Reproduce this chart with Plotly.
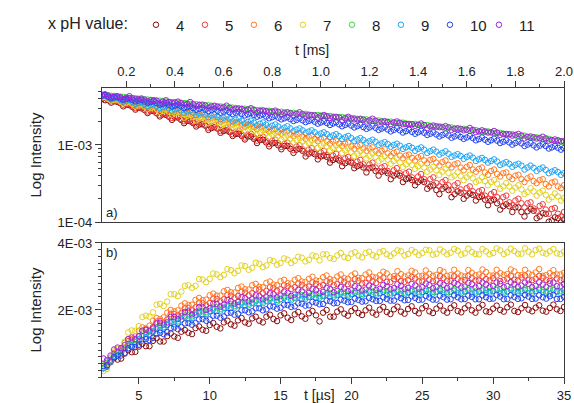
import plotly.graph_objects as go
from plotly.subplots import make_subplots

# ---- time grids: two interleaved sampling passes per panel ----
t_ms = [0.100, 0.125, 0.150, 0.175, 0.200, 0.225, 0.250, 0.275, 0.300, 0.325,
        0.350, 0.375, 0.400, 0.425, 0.450, 0.475, 0.500, 0.525, 0.550, 0.575,
        0.600, 0.625, 0.650, 0.675, 0.700, 0.725, 0.750, 0.775, 0.800, 0.825,
        0.850, 0.875, 0.900, 0.925, 0.950, 0.975, 1.000, 1.025, 1.050, 1.075,
        1.100, 1.125, 1.150, 1.175, 1.200, 1.225, 1.250, 1.275, 1.300, 1.325,
        1.350, 1.375, 1.400, 1.425, 1.450, 1.475, 1.500, 1.525, 1.550, 1.575,
        1.600, 1.625, 1.650, 1.675, 1.700, 1.725, 1.750, 1.775, 1.800, 1.825,
        1.850, 1.875, 1.900, 1.925, 1.950, 1.975, 2.000]
t_ms_mid = [0.1125, 0.1375, 0.1625, 0.1875, 0.2125, 0.2375, 0.2625, 0.2875, 0.3125, 0.3375,
            0.3625, 0.3875, 0.4125, 0.4375, 0.4625, 0.4875, 0.5125, 0.5375, 0.5625, 0.5875,
            0.6125, 0.6375, 0.6625, 0.6875, 0.7125, 0.7375, 0.7625, 0.7875, 0.8125, 0.8375,
            0.8625, 0.8875, 0.9125, 0.9375, 0.9625, 0.9875, 1.0125, 1.0375, 1.0625, 1.0875,
            1.1125, 1.1375, 1.1625, 1.1875, 1.2125, 1.2375, 1.2625, 1.2875, 1.3125, 1.3375,
            1.3625, 1.3875, 1.4125, 1.4375, 1.4625, 1.4875, 1.5125, 1.5375, 1.5625, 1.5875,
            1.6125, 1.6375, 1.6625, 1.6875, 1.7125, 1.7375, 1.7625, 1.7875, 1.8125, 1.8375,
            1.8625, 1.8875, 1.9125, 1.9375, 1.9625, 1.9875]

t_us = [2.5, 3.0, 3.5, 4.0, 4.5, 5.0, 5.5, 6.0, 6.5, 7.0,
        7.5, 8.0, 8.5, 9.0, 9.5, 10.0, 10.5, 11.0, 11.5, 12.0,
        12.5, 13.0, 13.5, 14.0, 14.5, 15.0, 15.5, 16.0, 16.5, 17.0,
        17.5, 18.0, 18.5, 19.0, 19.5, 20.0, 20.5, 21.0, 21.5, 22.0,
        22.5, 23.0, 23.5, 24.0, 24.5, 25.0, 25.5, 26.0, 26.5, 27.0,
        27.5, 28.0, 28.5, 29.0, 29.5, 30.0, 30.5, 31.0, 31.5, 32.0,
        32.5, 33.0, 33.5, 34.0, 34.5, 35.0]
t_us_mid = [2.75, 3.25, 3.75, 4.25, 4.75, 5.25, 5.75, 6.25, 6.75, 7.25,
            7.75, 8.25, 8.75, 9.25, 9.75, 10.25, 10.75, 11.25, 11.75, 12.25,
            12.75, 13.25, 13.75, 14.25, 14.75, 15.25, 15.75, 16.25, 16.75, 17.25,
            17.75, 18.25, 18.75, 19.25, 19.75, 20.25, 20.75, 21.25, 21.75, 22.25,
            22.75, 23.25, 23.75, 24.25, 24.75, 25.25, 25.75, 26.25, 26.75, 27.25,
            27.75, 28.25, 28.75, 29.25, 29.75, 30.25, 30.75, 31.25, 31.75, 32.25,
            32.75, 33.25, 33.75, 34.25, 34.75]

ph_labels = ["4", "5", "6", "7", "8", "9", "10", "11"]
ph_colors = ["#8b0a0a", "#f23a3a", "#ff7a22", "#e3d21c",
             "#3ada3a", "#1ea6f5", "#2443f0", "#a024dc"]

# ---- (a) decay, intensity in units of 1E-03 ----
decay_ph4 = [3.95, 3.82, 3.70, 3.49, 3.34, 3.12, 3.05, 2.84, 2.76, 2.58,
             2.50, 2.33, 2.28, 2.12, 2.06, 1.92, 1.84, 1.78, 1.66, 1.63,
             1.52, 1.47, 1.39, 1.31, 1.29, 1.20, 1.16, 1.08, 1.05, 0.99,
             0.97, 0.89, 0.87, 0.84, 0.77, 0.76, 0.71, 0.70, 0.64, 0.63,
             0.58, 0.59, 0.53, 0.51, 0.50, 0.46, 0.45, 0.43, 0.40, 0.40,
             0.36, 0.35, 0.33, 0.33, 0.29, 0.26, 0.27, 0.26, 0.23, 0.24,
             0.22, 0.225, 0.21, 0.195, 0.19, 0.175, 0.16, 0.16, 0.155, 0.135,
             0.138, 0.14, 0.118, 0.128, 0.105, 0.112, 0.108]
decay_ph4_mid = [3.82, 3.55, 3.63, 3.18, 3.29, 2.88, 2.99, 2.60, 2.74, 2.35,
                 2.46, 2.12, 2.27, 1.92, 2.03, 1.74, 1.86, 1.57, 1.70, 1.44,
                 1.55, 1.31, 1.40, 1.18, 1.29, 1.06, 1.17, 0.96, 1.06, 0.88,
                 0.97, 0.79, 0.89, 0.71, 0.80, 0.65, 0.73, 0.59, 0.66, 0.53,
                 0.61, 0.50, 0.55, 0.44, 0.51, 0.40, 0.46, 0.36, 0.42, 0.33,
                 0.37, 0.30, 0.35, 0.27, 0.30, 0.23, 0.285, 0.21, 0.25, 0.20,
                 0.235, 0.19, 0.215, 0.165, 0.195, 0.145, 0.17, 0.135, 0.155, 0.118,
                 0.148, 0.112, 0.13, 0.101, 0.115, 0.099]
decay_ph5 = [4.08, 3.90, 3.72, 3.55, 3.38, 3.18, 3.09, 2.88, 2.80, 2.62,
             2.55, 2.39, 2.33, 2.18, 2.12, 1.98, 1.94, 1.81, 1.77, 1.65,
             1.62, 1.51, 1.48, 1.37, 1.36, 1.26, 1.24, 1.14, 1.13, 1.05,
             1.03, 0.96, 0.95, 0.88, 0.87, 0.80, 0.80, 0.74, 0.73, 0.67,
             0.67, 0.61, 0.61, 0.56, 0.56, 0.51, 0.51, 0.46, 0.47, 0.43,
             0.43, 0.38, 0.39, 0.36, 0.36, 0.32, 0.33, 0.30, 0.30, 0.265,
             0.275, 0.25, 0.25, 0.22, 0.23, 0.21, 0.21, 0.18, 0.19, 0.175,
             0.175, 0.15, 0.162, 0.145, 0.148, 0.128, 0.135]
decay_ph5_mid = [4.10, 3.70, 3.75, 3.34, 3.40, 3.01, 3.10, 2.72, 2.83, 2.46,
                 2.59, 2.24, 2.37, 2.03, 2.16, 1.84, 1.98, 1.67, 1.81, 1.52,
                 1.66, 1.38, 1.52, 1.25, 1.40, 1.14, 1.28, 1.03, 1.17, 0.94,
                 1.07, 0.86, 0.99, 0.78, 0.91, 0.72, 0.84, 0.65, 0.77, 0.60,
                 0.70, 0.55, 0.64, 0.50, 0.59, 0.46, 0.53, 0.42, 0.50, 0.38,
                 0.45, 0.34, 0.42, 0.32, 0.38, 0.29, 0.35, 0.26, 0.32, 0.24,
                 0.29, 0.22, 0.26, 0.20, 0.245, 0.185, 0.22, 0.165, 0.20, 0.155,
                 0.18, 0.138, 0.17, 0.128, 0.152, 0.118]
decay_ph6 = [4.22, 4.03, 3.95, 3.75, 3.67, 3.49, 3.43, 3.25, 3.19, 3.03,
             2.98, 2.82, 2.77, 2.62, 2.59, 2.44, 2.41, 2.27, 2.25, 2.12,
             2.09, 1.97, 1.95, 1.83, 1.82, 1.71, 1.70, 1.59, 1.58, 1.48,
             1.48, 1.38, 1.38, 1.29, 1.28, 1.20, 1.20, 1.12, 1.11, 1.04,
             1.04, 0.96, 0.97, 0.90, 0.90, 0.84, 0.84, 0.78, 0.79, 0.73,
             0.73, 0.68, 0.69, 0.63, 0.64, 0.59, 0.60, 0.55, 0.56, 0.51,
             0.52, 0.48, 0.49, 0.44, 0.46, 0.42, 0.43, 0.385, 0.40, 0.36,
             0.37, 0.34, 0.35, 0.31, 0.325, 0.29, 0.30]
decay_ph6_mid = [4.28, 3.85, 4.02, 3.55, 3.75, 3.33, 3.50, 3.08, 3.27, 2.86,
                 3.05, 2.67, 2.84, 2.48, 2.64, 2.30, 2.46, 2.15, 2.30, 1.99,
                 2.14, 1.86, 1.99, 1.72, 1.86, 1.61, 1.74, 1.49, 1.62, 1.40,
                 1.52, 1.30, 1.42, 1.20, 1.32, 1.12, 1.24, 1.04, 1.14, 0.97,
                 1.07, 0.89, 1.00, 0.84, 0.93, 0.78, 0.88, 0.72, 0.82, 0.67,
                 0.75, 0.63, 0.72, 0.58, 0.66, 0.54, 0.63, 0.51, 0.58, 0.47,
                 0.55, 0.45, 0.51, 0.41, 0.48, 0.39, 0.44, 0.36, 0.41, 0.33,
                 0.39, 0.32, 0.36, 0.29, 0.335, 0.275]
decay_ph7 = [4.15, 3.97, 3.85, 3.68, 3.54, 3.42, 3.26, 3.16, 3.02, 2.92,
             2.78, 2.70, 2.58, 2.49, 2.38, 2.30, 2.20, 2.13, 2.02, 1.96,
             1.87, 1.81, 1.72, 1.67, 1.60, 1.54, 1.47, 1.42, 1.36, 1.31,
             1.25, 1.21, 1.16, 1.12, 1.06, 1.04, 0.99, 0.96, 0.91, 0.89,
             0.85, 0.81, 0.77, 0.755, 0.72, 0.70, 0.66, 0.645, 0.62, 0.595,
             0.56, 0.55, 0.53, 0.51, 0.48, 0.47, 0.45, 0.435, 0.40, 0.395,
             0.38, 0.37, 0.345, 0.34, 0.33, 0.315, 0.29, 0.29, 0.28, 0.265,
             0.245, 0.25, 0.24, 0.225, 0.21, 0.215, 0.205]
decay_ph7_mid = [4.20, 3.78, 3.90, 3.45, 3.62, 3.17, 3.35, 2.93, 3.12, 2.69,
                 2.88, 2.47, 2.66, 2.26, 2.46, 2.09, 2.29, 1.92, 2.11, 1.76,
                 1.96, 1.62, 1.80, 1.50, 1.68, 1.37, 1.55, 1.27, 1.43, 1.17,
                 1.33, 1.07, 1.23, 0.99, 1.14, 0.92, 1.05, 0.85, 0.98, 0.79,
                 0.91, 0.72, 0.83, 0.67, 0.78, 0.62, 0.71, 0.57, 0.67, 0.52,
                 0.61, 0.49, 0.57, 0.45, 0.52, 0.41, 0.49, 0.38, 0.44, 0.35,
                 0.41, 0.33, 0.38, 0.30, 0.35, 0.27, 0.32, 0.255, 0.30, 0.23,
                 0.275, 0.22, 0.255, 0.195, 0.235, 0.19]
decay_ph8 = [4.52, 4.42, 4.33, 4.24, 4.15, 4.06, 3.99, 3.91, 3.85, 3.78,
             3.73, 3.65, 3.60, 3.53, 3.48, 3.40, 3.35, 3.29, 3.24, 3.17,
             3.12, 3.07, 3.02, 2.96, 2.92, 2.88, 2.83, 2.78, 2.74, 2.70,
             2.66, 2.61, 2.57, 2.54, 2.49, 2.45, 2.41, 2.38, 2.34, 2.29,
             2.26, 2.23, 2.18, 2.15, 2.11, 2.08, 2.04, 2.00, 1.97, 1.94,
             1.90, 1.87, 1.84, 1.81, 1.77, 1.74, 1.71, 1.68, 1.64, 1.61,
             1.58, 1.55, 1.52, 1.49, 1.46, 1.43, 1.40, 1.37, 1.34, 1.31,
             1.28, 1.25, 1.22, 1.19, 1.16, 1.13, 1.10]
decay_ph8_mid = [4.50, 4.36, 4.25, 4.22, 4.08, 4.05, 3.92, 3.90, 3.79, 3.77,
                 3.66, 3.60, 3.54, 3.50, 3.42, 3.39, 3.29, 3.28, 3.18, 3.17,
                 3.07, 3.06, 2.97, 2.96, 2.88, 2.83, 2.78, 2.79, 2.69, 2.70,
                 2.61, 2.61, 2.53, 2.54, 2.44, 2.45, 2.37, 2.38, 2.29, 2.30,
                 2.22, 2.23, 2.14, 2.15, 2.07, 2.08, 2.00, 2.01, 1.93, 1.95,
                 1.86, 1.88, 1.80, 1.82, 1.73, 1.75, 1.67, 1.69, 1.60, 1.62,
                 1.54, 1.56, 1.48, 1.50, 1.42, 1.44, 1.36, 1.38, 1.30, 1.32,
                 1.24, 1.26, 1.18, 1.20, 1.12, 1.10]
decay_ph9 = [4.32, 4.15, 4.02, 3.86, 3.75, 3.62, 3.52, 3.39, 3.30, 3.19,
             3.10, 2.99, 2.90, 2.81, 2.73, 2.63, 2.55, 2.48, 2.41, 2.33,
             2.26, 2.20, 2.13, 2.07, 2.00, 1.95, 1.89, 1.84, 1.78, 1.74,
             1.68, 1.64, 1.58, 1.55, 1.49, 1.46, 1.41, 1.38, 1.33, 1.30,
             1.26, 1.23, 1.18, 1.16, 1.12, 1.10, 1.05, 1.03, 1.00, 0.98,
             0.93, 0.92, 0.89, 0.87, 0.83, 0.82, 0.79, 0.77, 0.73, 0.72,
             0.70, 0.685, 0.65, 0.64, 0.62, 0.61, 0.575, 0.57, 0.55, 0.54,
             0.51, 0.505, 0.49, 0.475, 0.45, 0.445, 0.43]
decay_ph9_mid = [4.36, 3.94, 4.10, 3.66, 3.86, 3.43, 3.59, 3.17, 3.40, 3.01,
                 3.19, 2.79, 2.99, 2.62, 2.81, 2.45, 2.64, 2.30, 2.49, 2.16,
                 2.34, 2.03, 2.21, 1.91, 2.07, 1.80, 1.96, 1.70, 1.85, 1.60,
                 1.75, 1.51, 1.64, 1.43, 1.55, 1.34, 1.46, 1.27, 1.38, 1.20,
                 1.31, 1.13, 1.23, 1.07, 1.17, 1.00, 1.09, 0.95, 1.04, 0.89,
                 0.97, 0.84, 0.93, 0.79, 0.87, 0.75, 0.83, 0.70, 0.76, 0.66,
                 0.73, 0.62, 0.68, 0.59, 0.65, 0.55, 0.60, 0.52, 0.57, 0.48,
                 0.54, 0.46, 0.51, 0.43, 0.47, 0.41]
decay_ph10 = [4.38, 4.25, 4.16, 4.03, 3.95, 3.84, 3.77, 3.66, 3.60, 3.49,
              3.42, 3.31, 3.25, 3.16, 3.10, 3.01, 2.95, 2.88, 2.85, 2.77,
              2.72, 2.66, 2.62, 2.54, 2.50, 2.45, 2.41, 2.34, 2.30, 2.26,
              2.22, 2.16, 2.12, 2.09, 2.05, 2.00, 1.96, 1.93, 1.90, 1.85,
              1.82, 1.79, 1.76, 1.71, 1.69, 1.67, 1.63, 1.59, 1.57, 1.55,
              1.51, 1.48, 1.46, 1.44, 1.40, 1.37, 1.35, 1.33, 1.29, 1.27,
              1.25, 1.23, 1.19, 1.17, 1.15, 1.14, 1.10, 1.08, 1.06, 1.05,
              1.01, 0.99, 0.98, 0.97, 0.93, 0.92, 0.91]
decay_ph10_mid = [4.45, 4.06, 4.22, 3.86, 4.04, 3.68, 3.86, 3.51, 3.70, 3.33,
                  3.51, 3.16, 3.35, 3.01, 3.19, 2.87, 3.05, 2.75, 2.95, 2.63,
                  2.82, 2.53, 2.71, 2.42, 2.59, 2.33, 2.49, 2.22, 2.39, 2.15,
                  2.30, 2.05, 2.21, 1.98, 2.12, 1.89, 2.04, 1.82, 1.97, 1.75,
                  1.90, 1.69, 1.83, 1.62, 1.77, 1.57, 1.70, 1.50, 1.65, 1.45,
                  1.58, 1.40, 1.53, 1.35, 1.46, 1.29, 1.41, 1.24, 1.35, 1.20,
                  1.31, 1.15, 1.25, 1.10, 1.21, 1.06, 1.15, 1.01, 1.11, 0.97,
                  1.06, 0.93, 1.03, 0.90, 0.97, 0.87]
decay_ph11 = [4.43, 4.37, 4.25, 4.19, 4.10, 4.04, 3.93, 3.88, 3.80, 3.75,
              3.65, 3.61, 3.55, 3.50, 3.39, 3.36, 3.30, 3.25, 3.15, 3.13,
              3.08, 3.04, 2.95, 2.93, 2.88, 2.85, 2.76, 2.75, 2.70, 2.67,
              2.59, 2.58, 2.53, 2.50, 2.43, 2.42, 2.37, 2.35, 2.28, 2.27,
              2.22, 2.20, 2.14, 2.13, 2.08, 2.06, 2.01, 1.99, 1.95, 1.94,
              1.87, 1.86, 1.82, 1.81, 1.74, 1.74, 1.70, 1.69, 1.62, 1.62,
              1.58, 1.57, 1.50, 1.50, 1.46, 1.45, 1.39, 1.38, 1.35, 1.33,
              1.27, 1.26, 1.23, 1.22, 1.16, 1.15, 1.12]
decay_ph11_mid = [4.55, 4.20, 4.30, 3.95, 4.30, 3.93, 4.02, 3.69, 3.81, 3.48,
                  3.81, 3.51, 3.66, 3.34, 3.61, 3.20, 3.34, 3.04, 3.23, 3.04,
                  3.24, 2.87, 2.97, 2.81, 3.00, 2.63, 2.81, 2.69, 2.79, 2.50,
                  2.66, 2.45, 2.66, 2.41, 2.44, 2.27, 2.45, 2.24, 2.32, 2.11,
                  2.32, 2.15, 2.19, 2.02, 2.19, 1.97, 2.04, 1.87, 2.02, 1.86,
                  1.88, 1.77, 1.90, 1.66, 1.79, 1.70, 1.76, 1.57, 1.65, 1.55,
                  1.66, 1.47, 1.55, 1.45, 1.52, 1.35, 1.39, 1.32, 1.39, 1.22,
                  1.29, 1.21, 1.28, 1.14, 1.18, 1.12]

# ---- (b) rise, intensity in units of 1E-03 ----
rise_ph4 = [0.26, 0.47, 0.52, 0.70, 0.74, 0.91, 0.92, 1.08, 1.06, 1.22,
            1.21, 1.35, 1.32, 1.46, 1.41, 1.55, 1.50, 1.63, 1.57, 1.69,
            1.63, 1.75, 1.68, 1.80, 1.73, 1.84, 1.77, 1.87, 1.81, 1.90,
            1.84, 1.92, 1.80, 1.95, 1.89, 1.97, 1.91, 1.99, 1.92, 2.01,
            1.94, 2.02, 1.95, 2.03, 1.97, 2.05, 1.96, 2.04, 1.98, 2.06,
            1.97, 2.05, 1.99, 2.07, 1.96, 2.04, 2.00, 2.08, 1.97, 2.05,
            2.01, 2.07, 1.98, 2.06, 2.02, 2.09]
rise_ph4_mid = [0.31, 0.56, 0.55, 0.80, 0.75, 0.99, 0.92, 1.16, 1.06, 1.30,
                1.17, 1.40, 1.28, 1.51, 1.38, 1.61, 1.45, 1.68, 1.53, 1.76,
                1.59, 1.80, 1.63, 1.86, 1.67, 1.90, 1.70, 1.94, 1.74, 1.97,
                1.66, 2.00, 1.80, 2.02, 1.83, 2.05, 1.85, 2.07, 1.86, 2.09,
                1.88, 2.10, 1.89, 2.11, 1.90, 2.12, 1.91, 2.13, 1.92, 2.14,
                1.93, 2.14, 1.92, 2.15, 1.94, 2.13, 1.95, 2.16, 1.94, 2.15,
                1.96, 2.14, 1.95, 2.16, 1.97]
rise_ph5 = [0.33, 0.49, 0.76, 0.88, 1.11, 1.21, 1.42, 1.49, 1.67, 1.72,
            1.88, 1.91, 2.06, 2.08, 2.20, 2.21, 2.33, 2.32, 2.43, 2.42,
            2.52, 2.50, 2.61, 2.57, 2.66, 2.62, 2.71, 2.68, 2.75, 2.70,
            2.78, 2.74, 2.82, 2.77, 2.84, 2.79, 2.87, 2.81, 2.86, 2.90,
            2.84, 2.92, 2.86, 2.89, 2.94, 2.85, 2.91, 2.88, 2.95, 2.87,
            2.93, 2.89, 2.96, 2.88, 2.92, 2.95, 2.86, 2.94, 2.90, 2.97,
            2.89, 2.93, 2.96, 2.87, 2.94, 2.91]
rise_ph5_mid = [0.36, 0.70, 0.77, 1.07, 1.10, 1.38, 1.39, 1.65, 1.62, 1.88,
                1.84, 2.06, 2.00, 2.22, 2.14, 2.34, 2.26, 2.45, 2.36, 2.54,
                2.44, 2.62, 2.51, 2.68, 2.58, 2.74, 2.63, 2.79, 2.67, 2.83,
                2.71, 2.86, 2.74, 2.89, 2.77, 2.92, 2.79, 2.94, 2.81, 2.96,
                2.83, 2.97, 2.84, 2.99, 2.85, 3.00, 2.86, 3.01, 2.87, 3.01,
                2.87, 3.02, 2.88, 3.01, 2.88, 3.03, 2.89, 3.02, 2.88, 3.03,
                2.89, 3.02, 2.90, 3.03, 2.89]
rise_ph6 = [0.28, 0.58, 0.74, 1.02, 1.13, 1.38, 1.45, 1.68, 1.73, 1.92,
            1.96, 2.13, 2.15, 2.30, 2.29, 2.44, 2.43, 2.56, 2.53, 2.66,
            2.62, 2.74, 2.69, 2.81, 2.76, 2.86, 2.80, 2.90, 2.85, 2.93,
            2.88, 2.98, 2.92, 3.00, 2.95, 3.03, 2.96, 3.06, 2.99, 3.04,
            3.09, 3.01, 3.07, 3.03, 3.12, 3.02, 3.08, 3.05, 3.14, 3.04,
            3.09, 3.00, 3.11, 3.06, 3.13, 3.03, 3.10, 3.07, 3.15, 3.04,
            3.09, 3.12, 3.02, 3.10, 3.06, 3.11]
rise_ph6_mid = [0.40, 0.71, 0.84, 1.13, 1.21, 1.48, 1.53, 1.76, 1.78, 2.00,
                1.99, 2.20, 2.16, 2.36, 2.31, 2.49, 2.43, 2.60, 2.52, 2.70,
                2.61, 2.78, 2.68, 2.85, 2.74, 2.90, 2.79, 2.95, 2.84, 2.99,
                2.87, 3.03, 2.90, 3.06, 2.93, 3.09, 2.95, 3.12, 2.97, 3.14,
                2.99, 3.16, 3.00, 3.17, 3.01, 3.18, 3.02, 3.19, 3.02, 3.20,
                3.03, 3.19, 3.04, 3.21, 3.03, 3.20, 3.05, 3.21, 3.04, 3.20,
                3.05, 3.22, 3.04, 3.19, 3.06]
rise_ph7 = [0.18, 0.45, 0.84, 1.05, 1.39, 1.52, 1.83, 1.93, 2.18, 2.25,
            2.47, 2.55, 2.74, 2.72, 2.91, 2.93, 3.06, 3.05, 3.19, 3.17,
            3.31, 3.26, 3.38, 3.33, 3.46, 3.40, 3.50, 3.47, 3.56, 3.50,
            3.60, 3.66, 3.55, 3.63, 3.58, 3.68, 3.62, 3.70, 3.64, 3.72,
            3.66, 3.69, 3.75, 3.67, 3.73, 3.70, 3.78, 3.68, 3.74, 3.71,
            3.77, 3.69, 3.73, 3.66, 3.75, 3.70, 3.78, 3.72, 3.76, 3.68,
            3.74, 3.79, 3.71, 3.75, 3.69, 3.74]
rise_ph7_mid = [0.24, 0.76, 0.86, 1.33, 1.38, 1.79, 1.80, 2.16, 2.12, 2.47,
                2.41, 2.72, 2.66, 2.92, 2.83, 3.09, 2.98, 3.22, 3.10, 3.33,
                3.20, 3.41, 3.28, 3.49, 3.35, 3.54, 3.40, 3.59, 3.45, 3.63,
                3.48, 3.66, 3.52, 3.70, 3.55, 3.72, 3.57, 3.74, 3.59, 3.76,
                3.61, 3.78, 3.63, 3.79, 3.64, 3.80, 3.65, 3.81, 3.66, 3.82,
                3.65, 3.83, 3.67, 3.82, 3.66, 3.84, 3.67, 3.83, 3.68, 3.84,
                3.66, 3.83, 3.68, 3.82, 3.67]
rise_ph8 = [0.38, 0.51, 0.74, 0.84, 1.05, 1.12, 1.30, 1.35, 1.51, 1.55,
            1.69, 1.71, 1.84, 1.85, 1.97, 1.96, 2.08, 2.06, 2.17, 2.14,
            2.24, 2.21, 2.30, 2.27, 2.36, 2.32, 2.40, 2.36, 2.44, 2.39,
            2.47, 2.42, 2.50, 2.45, 2.52, 2.47, 2.54, 2.49, 2.55, 2.50,
            2.56, 2.51, 2.58, 2.52, 2.58, 2.53, 2.59, 2.54, 2.60, 2.54,
            2.60, 2.55, 2.61, 2.55, 2.60, 2.56, 2.62, 2.55, 2.61, 2.57,
            2.62, 2.56, 2.60, 2.63, 2.55, 2.61]
rise_ph8_mid = [0.41, 0.68, 0.75, 0.99, 1.04, 1.26, 1.29, 1.48, 1.49, 1.67,
                1.66, 1.83, 1.81, 1.96, 1.93, 2.07, 2.03, 2.16, 2.12, 2.24,
                2.19, 2.31, 2.25, 2.36, 2.30, 2.41, 2.34, 2.45, 2.38, 2.48,
                2.41, 2.51, 2.44, 2.54, 2.46, 2.56, 2.48, 2.58, 2.50, 2.59,
                2.51, 2.60, 2.52, 2.61, 2.53, 2.62, 2.54, 2.63, 2.54, 2.63,
                2.55, 2.64, 2.55, 2.63, 2.56, 2.64, 2.55, 2.65, 2.56, 2.64,
                2.56, 2.65, 2.55, 2.64, 2.56]
rise_ph9 = [0.27, 0.52, 0.63, 0.85, 0.94, 1.13, 1.19, 1.36, 1.40, 1.56,
            1.58, 1.72, 1.73, 1.86, 1.86, 1.97, 1.97, 2.07, 2.06, 2.15,
            2.13, 2.22, 2.19, 2.28, 2.25, 2.33, 2.29, 2.37, 2.33, 2.40,
            2.36, 2.43, 2.39, 2.46, 2.41, 2.48, 2.43, 2.49, 2.44, 2.51,
            2.45, 2.52, 2.47, 2.53, 2.48, 2.54, 2.48, 2.55, 2.49, 2.55,
            2.50, 2.56, 2.49, 2.55, 2.51, 2.57, 2.50, 2.56, 2.52, 2.55,
            2.50, 2.57, 2.53, 2.49, 2.56, 2.52]
rise_ph9_mid = [0.33, 0.62, 0.72, 0.94, 0.98, 1.21, 1.24, 1.43, 1.44, 1.62,
                1.61, 1.78, 1.76, 1.91, 1.88, 2.02, 1.98, 2.11, 2.07, 2.19,
                2.14, 2.26, 2.20, 2.31, 2.25, 2.36, 2.29, 2.40, 2.33, 2.43,
                2.36, 2.46, 2.39, 2.49, 2.41, 2.51, 2.43, 2.53, 2.45, 2.54,
                2.46, 2.55, 2.47, 2.56, 2.48, 2.57, 2.49, 2.58, 2.49, 2.58,
                2.50, 2.59, 2.50, 2.58, 2.51, 2.59, 2.50, 2.60, 2.51, 2.59,
                2.51, 2.60, 2.50, 2.59, 2.51]
rise_ph10 = [0.33, 0.44, 0.64, 0.72, 0.90, 0.96, 1.13, 1.17, 1.32, 1.34,
             1.48, 1.49, 1.61, 1.61, 1.73, 1.72, 1.83, 1.81, 1.92, 1.89,
             1.99, 1.96, 2.05, 2.02, 2.10, 2.07, 2.15, 2.11, 2.19, 2.14,
             2.22, 2.18, 2.26, 2.21, 2.28, 2.24, 2.30, 2.26, 2.32, 2.27,
             2.33, 2.28, 2.35, 2.30, 2.36, 2.31, 2.37, 2.31, 2.38, 2.32,
             2.38, 2.33, 2.39, 2.32, 2.38, 2.34, 2.40, 2.33, 2.39, 2.35,
             2.40, 2.34, 2.38, 2.41, 2.33, 2.39]
rise_ph10_mid = [0.35, 0.59, 0.64, 0.86, 0.89, 1.09, 1.10, 1.29, 1.28, 1.46,
                 1.43, 1.60, 1.56, 1.72, 1.68, 1.83, 1.77, 1.91, 1.86, 1.99,
                 1.93, 2.05, 1.99, 2.11, 2.04, 2.16, 2.09, 2.20, 2.13, 2.24,
                 2.17, 2.28, 2.20, 2.31, 2.23, 2.34, 2.25, 2.36, 2.27, 2.38,
                 2.28, 2.40, 2.29, 2.41, 2.30, 2.42, 2.31, 2.43, 2.31, 2.44,
                 2.32, 2.43, 2.32, 2.44, 2.33, 2.45, 2.32, 2.44, 2.33, 2.45,
                 2.33, 2.44, 2.34, 2.45, 2.33]
rise_ph11 = [0.55, 0.64, 0.88, 0.95, 1.18, 1.22, 1.41, 1.45, 1.62, 1.63,
             1.79, 1.81, 1.95, 1.93, 2.08, 2.05, 2.18, 2.16, 2.26, 2.24,
             2.35, 2.32, 2.41, 2.38, 2.47, 2.43, 2.51, 2.46, 2.55, 2.51,
             2.59, 2.54, 2.62, 2.57, 2.64, 2.59, 2.66, 2.61, 2.68, 2.63,
             2.70, 2.65, 2.72, 2.66, 2.73, 2.68, 2.74, 2.69, 2.75, 2.70,
             2.76, 2.70, 2.77, 2.71, 2.76, 2.72, 2.78, 2.71, 2.77, 2.73,
             2.78, 2.72, 2.76, 2.79, 2.71, 2.77]
rise_ph11_mid = [0.50, 0.82, 0.86, 1.13, 1.13, 1.38, 1.36, 1.60, 1.56, 1.79,
                 1.73, 1.94, 1.87, 2.08, 2.00, 2.19, 2.10, 2.30, 2.19, 2.38,
                 2.26, 2.44, 2.32, 2.50, 2.38, 2.55, 2.42, 2.60, 2.46, 2.63,
                 2.50, 2.66, 2.53, 2.69, 2.56, 2.71, 2.58, 2.73, 2.60, 2.75,
                 2.62, 2.77, 2.63, 2.78, 2.64, 2.79, 2.65, 2.80, 2.66, 2.81,
                 2.67, 2.81, 2.67, 2.82, 2.68, 2.82, 2.68, 2.83, 2.69, 2.82,
                 2.68, 2.83, 2.69, 2.82, 2.70]

UNIT = 1e-3
decay_sets = [(decay_ph4, decay_ph4_mid), (decay_ph5, decay_ph5_mid),
              (decay_ph6, decay_ph6_mid), (decay_ph7, decay_ph7_mid),
              (decay_ph8, decay_ph8_mid), (decay_ph9, decay_ph9_mid),
              (decay_ph10, decay_ph10_mid), (decay_ph11, decay_ph11_mid)]
rise_sets = [(rise_ph4, rise_ph4_mid), (rise_ph5, rise_ph5_mid),
             (rise_ph6, rise_ph6_mid), (rise_ph7, rise_ph7_mid),
             (rise_ph8, rise_ph8_mid), (rise_ph9, rise_ph9_mid),
             (rise_ph10, rise_ph10_mid), (rise_ph11, rise_ph11_mid)]

FONT = "Liberation Sans, Arial, sans-serif"
AXIS_COLOR = "#3a3a3a"
TXT = "#222222"

fig = make_subplots(rows=2, cols=1, vertical_spacing=0.0726)

for lab, col, (dec_a, dec_b), (ris_a, ris_b) in zip(ph_labels, ph_colors, decay_sets, rise_sets):
    mk = dict(symbol="circle-open", size=5.5, color=col, line=dict(width=1.0, color=col))
    fig.add_trace(go.Scatter(x=t_ms + t_ms_mid, y=[v * UNIT for v in dec_a + dec_b],
                             mode="markers", marker=mk, name=lab, legendgroup=lab,
                             showlegend=True), row=1, col=1)
    fig.add_trace(go.Scatter(x=t_us + t_us_mid, y=[v * UNIT for v in ris_a + ris_b],
                             mode="markers", marker=mk, name=lab, legendgroup=lab,
                             showlegend=False), row=2, col=1)

# empty spacer entry so the last legend label has room inside the legend box
fig.add_trace(go.Scatter(x=[None], y=[None], mode="none", name=" ",
                         hoverinfo="skip", showlegend=True), row=1, col=1)

axis_common = dict(showline=True, linecolor=AXIS_COLOR, linewidth=1.3, mirror=True,
                   ticks="outside", tickcolor=AXIS_COLOR, tickwidth=1.2, ticklen=6,
                   showgrid=False, zeroline=False, automargin=False,
                   tickfont=dict(family=FONT, size=13, color=TXT))

fig.update_xaxes(**axis_common, row=1, col=1, side="top", range=[0.1, 2.0],
                 tickvals=[0.2, 0.4, 0.6, 0.8, 1.0, 1.2, 1.4, 1.6, 1.8, 2.0],
                 ticktext=["0.2", "0.4", "0.6", "0.8", "1.0", "1.2", "1.4", "1.6", "1.8", "2.0"],
                 minor=dict(ticks="outside", tickvals=[0.3, 0.5, 0.7, 0.9, 1.1, 1.3, 1.5, 1.7, 1.9],
                            ticklen=3, tickcolor=AXIS_COLOR))
fig.update_yaxes(**axis_common, row=1, col=1, type="log", range=[-4, -2.26],
                 tickvals=[1e-4, 1e-3], ticktext=["1E-04", "1E-03"],
                 minor=dict(ticks="outside", ticklen=3, tickcolor=AXIS_COLOR,
                            tickvals=[2e-4, 3e-4, 4e-4, 5e-4, 6e-4, 7e-4, 8e-4, 9e-4,
                                      2e-3, 3e-3, 4e-3, 5e-3]),
                 title=dict(text="Log Intensity", font=dict(family=FONT, size=15, color=TXT), standoff=12))

fig.update_xaxes(**axis_common, row=2, col=1, range=[2.4, 35],
                 tickvals=[5, 10, 15, 20, 25, 30, 35],
                 minor=dict(ticks="outside", tickvals=[7.5, 12.5, 17.5, 22.5, 27.5, 32.5],
                            ticklen=3, tickcolor=AXIS_COLOR))
fig.update_yaxes(**axis_common, row=2, col=1, range=[0, 0.004],
                 tickvals=[0.002, 0.004], ticktext=["2E-03", "4E-03"],
                 minor=dict(ticks="outside", ticklen=3, tickcolor=AXIS_COLOR, dtick=0.0002),
                 title=dict(text="Log Intensity", font=dict(family=FONT, size=15, color=TXT), standoff=12))

# time-axis titles, placed between tick labels
fig.add_annotation(text="t [ms]", xref="paper", yref="paper", x=0.455, y=1.131,
                   xanchor="center", yanchor="middle", showarrow=False,
                   font=dict(family=FONT, size=14, color=TXT))
fig.add_annotation(text="t [µs]", xref="paper", yref="paper", x=0.47, y=-0.064,
                   xanchor="center", yanchor="middle", showarrow=False,
                   font=dict(family=FONT, size=14, color=TXT))

fig.add_annotation(text="a)", xref="x domain", yref="y domain", x=0.005, y=0.0,
                   xanchor="left", yanchor="bottom", showarrow=False,
                   font=dict(family=FONT, size=13, color=TXT))
fig.add_annotation(text="b)", xref="x2 domain", yref="y2 domain", x=0.005, y=1.0,
                   xanchor="left", yanchor="top", showarrow=False,
                   font=dict(family=FONT, size=13, color=TXT))

fig.update_layout(
    width=574, height=403,
    margin=dict(l=102, r=10, t=88, b=26, autoexpand=False),
    paper_bgcolor="white", plot_bgcolor="white",
    font=dict(family=FONT, size=13, color=TXT),
    legend=dict(orientation="h", xref="container", yref="container",
                x=0.08, y=0.938, xanchor="left", yanchor="middle",
                title=dict(text="x pH value:", side="left",
                           font=dict(family=FONT, size=16, color=TXT)),
                font=dict(family=FONT, size=15, color=TXT),
                itemwidth=30, entrywidth=4, entrywidthmode="pixels",
                bgcolor="rgba(0,0,0,0)"),
)

fig.write_html("out.html")
